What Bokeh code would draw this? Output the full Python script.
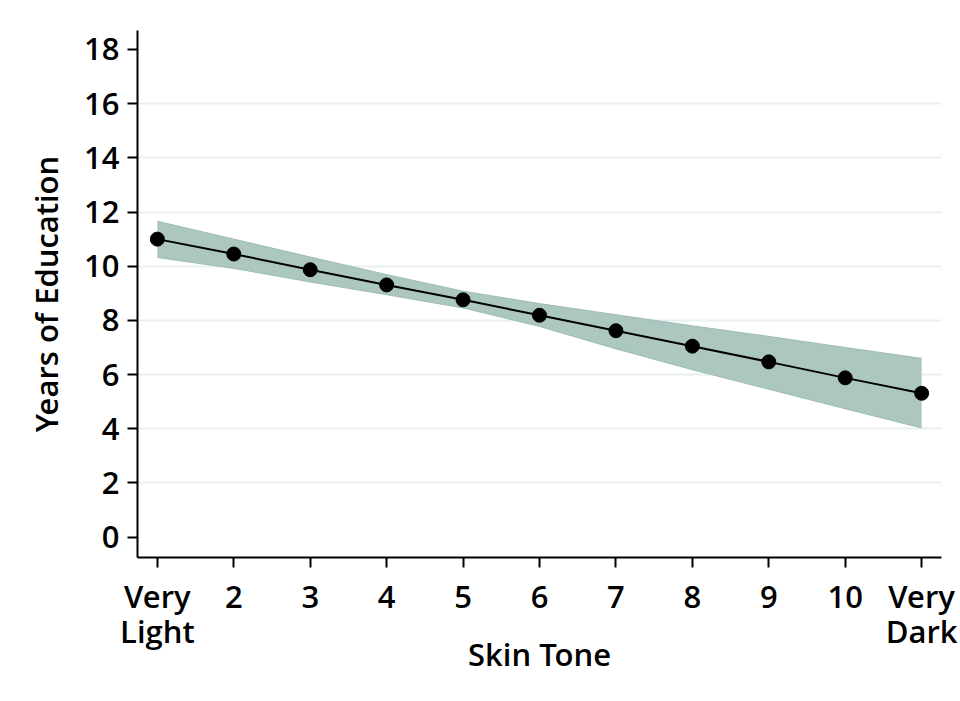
from bokeh.plotting import figure
from bokeh.models import ColumnDataSource, FixedTicker, LinearAxis
from bokeh.embed import file_html
from bokeh.resources import INLINE

# Data
skin_tone = [1, 2, 3, 4, 5, 6, 7, 8, 9, 10, 11]
tick_labels = ["Very Light", "2", "3", "4", "5", "6", "7", "8", "9", "10", "Very Dark"]
years_edu = [11.0, 10.45, 9.87, 9.31, 8.76, 8.19, 7.62, 7.05, 6.47, 5.88, 5.31]
ci_upper = [11.66, 11.0, 10.34, 9.69, 9.08, 8.62, 8.21, 7.80, 7.41, 7.00, 6.60]
ci_lower = [10.32, 9.92, 9.42, 8.95, 8.46, 7.78, 6.95, 6.18, 5.46, 4.74, 4.03]
y_ticks = [0, 2, 4, 6, 8, 10, 12, 14, 16, 18]
grid_ticks = [2, 4, 6, 8, 10, 12, 14, 16]

src = ColumnDataSource(dict(x=skin_tone, y=years_edu, lo=ci_lower, hi=ci_upper))

FONT = "Open Sans SemiBold"
FS = "31px"
p = figure(width=958, height=699, output_backend="svg", toolbar_location=None,
           x_range=(0.74, 11.26), y_range=(-0.75, 18.7),
           min_border_left=137, min_border_right=17, min_border_top=30, min_border_bottom=142)
p.outline_line_color = None
p.background_fill_color = "white"
p.border_fill_color = "white"

# band
p.varea(x="x", y1="lo", y2="hi", source=src, fill_color="#abc7c0", fill_alpha=1.0)
p.line(x="x", y="lo", source=src, line_color="#9cbcb4", line_width=1)
p.line(x="x", y="hi", source=src, line_color="#9cbcb4", line_width=1)
p.line(x="x", y="y", source=src, line_color="black", line_width=2)
p.scatter(x="x", y="y", source=src, size=14, fill_color="black", line_color="black")

# grids
p.xgrid.visible = False
p.ygrid.ticker = FixedTicker(ticks=grid_ticks)
p.ygrid.grid_line_color = "#e9f0f2"
p.ygrid.grid_line_width = 2

def style(ax):
    ax.axis_line_color = "black"
    ax.axis_line_width = 2
    ax.major_tick_line_color = "black"
    ax.major_tick_line_width = 2
    ax.major_tick_out = 10
    ax.major_tick_in = 0
    ax.minor_tick_line_color = None
    ax.major_label_text_font = FONT
    ax.major_label_text_font_size = FS
    ax.major_label_text_color = "black"
    ax.axis_label_text_font = FONT
    ax.axis_label_text_font_size = FS
    ax.axis_label_text_font_style = "normal"
    ax.axis_label_text_color = "black"

style(p.xaxis[0])
style(p.yaxis[0])

# first line of tick labels on the main x axis
first_lines = [lab.split(" ")[0] for lab in tick_labels]
p.xaxis[0].ticker = FixedTicker(ticks=skin_tone)
p.xaxis[0].major_label_overrides = {x: lab for x, lab in zip(skin_tone, first_lines)}
p.xaxis[0].major_label_standoff = 7

# second line of the two-word tick labels, plus the axis title
second = {x: lab.split(" ")[1] for x, lab in zip(skin_tone, tick_labels) if " " in lab}
ax2 = LinearAxis()
style(ax2)
ax2.ticker = FixedTicker(ticks=list(second.keys()))
ax2.major_label_overrides = second
ax2.axis_line_color = None
ax2.major_tick_line_color = None
ax2.major_tick_out = 0
ax2.major_label_standoff = -10
ax2.axis_label = "Skin Tone"
ax2.axis_label_standoff = -22
p.add_layout(ax2, "below")

p.yaxis[0].ticker = FixedTicker(ticks=y_ticks)
p.yaxis[0].major_label_standoff = 8
p.yaxis[0].major_label_orientation = "horizontal"
p.yaxis[0].axis_label = "Years of Education"
p.yaxis[0].axis_label_standoff = 14

open("out.html", "w").write(file_html(p, INLINE))
